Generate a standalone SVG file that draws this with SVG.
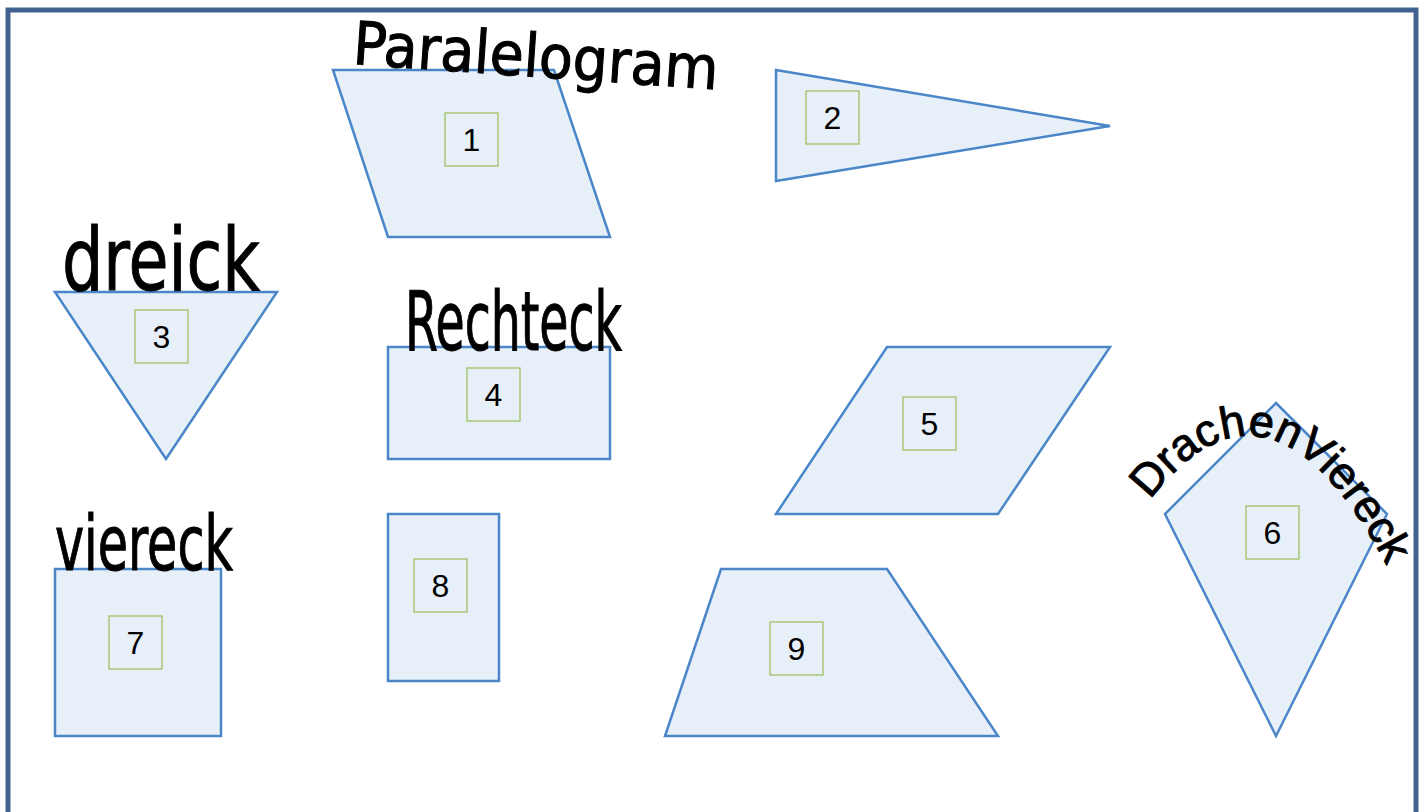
<svg xmlns="http://www.w3.org/2000/svg" width="1426" height="812" viewBox="0 0 1426 812">
<style>
.shape{fill:#e7eff8;stroke:#4a86c8;stroke-width:2.5;stroke-linejoin:miter}
.lbl{fill:none;stroke:#9bbb59;stroke-width:1.2}
.num{font-family:"Liberation Sans",Arial,sans-serif;fill:#000;text-anchor:middle}
.hand{font-family:"Liberation Sans Narrow","DejaVu Sans Condensed","Liberation Sans",sans-serif;fill:#000;stroke:#000;stroke-width:1}
</style>
<rect x="0" y="0" width="1426" height="812" fill="#fff"/>
<rect id="frame" x="8" y="10" width="1408" height="900" fill="#fff" stroke="#41628f" stroke-width="5"/>
<g id="n1"><polygon class="shape" points="333,70 554,70 610,237 388,237"/><rect class="lbl" x="445" y="113" width="53" height="53"/><text class="num" font-size="32" x="471.5" y="151">1</text></g>
<g id="n2"><polygon class="shape" points="776,70 1110,126 776,181"/><rect class="lbl" x="806" y="91" width="53" height="53"/><text class="num" font-size="32" x="832.5" y="129">2</text></g>
<g id="n3"><polygon class="shape" points="55,292 277,292 166,459"/><rect class="lbl" x="135" y="310" width="53" height="53"/><text class="num" font-size="32" x="161.5" y="348">3</text></g>
<g id="n4"><rect class="shape" x="388" y="347" width="222" height="112"/><rect class="lbl" x="467" y="368" width="53" height="53"/><text class="num" font-size="32" x="493.5" y="406">4</text></g>
<g id="n5"><polygon class="shape" points="887,347 1110,347 998,514 776,514"/><rect class="lbl" x="903" y="397" width="53" height="53"/><text class="num" font-size="32" x="929.5" y="435">5</text></g>
<g id="n6"><polygon class="shape" points="1276,403 1387,514 1276,736 1165,514"/><rect class="lbl" x="1246" y="506" width="53" height="53"/><text class="num" font-size="32" x="1272.5" y="544">6</text></g>
<g id="n7"><rect class="shape" x="55" y="569" width="166" height="167"/><rect class="lbl" x="109" y="616" width="53" height="53"/><text class="num" font-size="32" x="135.5" y="654">7</text></g>
<g id="n8"><rect class="shape" x="388" y="514" width="111" height="167"/><rect class="lbl" x="414" y="559" width="53" height="53"/><text class="num" font-size="32" x="440.5" y="597">8</text></g>
<g id="n9"><polygon class="shape" points="721,569 887,569 998,736 665,736"/><rect class="lbl" x="770" y="622" width="53" height="53"/><text class="num" font-size="32" x="796.5" y="660">9</text></g>
<g id="connectors"></g>
<g id="handwriting">
<text class="hand" x="352" y="64" font-size="60" textLength="366" lengthAdjust="spacingAndGlyphs" transform="rotate(4 352 64)">Paralelogram</text>
<text class="hand" x="62" y="290" font-size="88" textLength="198" lengthAdjust="spacingAndGlyphs">dreick</text>
<text class="hand" x="405" y="350" font-size="82" textLength="217" lengthAdjust="spacingAndGlyphs">Rechteck</text>
<text class="hand" x="55" y="570" font-size="76" textLength="178" lengthAdjust="spacingAndGlyphs">viereck</text>
<defs><path id="kitepath" d="M1150,500 Q1278,335 1402,596"/></defs>
<text font-family="'Liberation Sans',Arial,sans-serif" font-size="45" fill="#000" stroke="#000" stroke-width="1"><textPath href="#kitepath">DrachenViereck</textPath></text>
</g>
</svg>
